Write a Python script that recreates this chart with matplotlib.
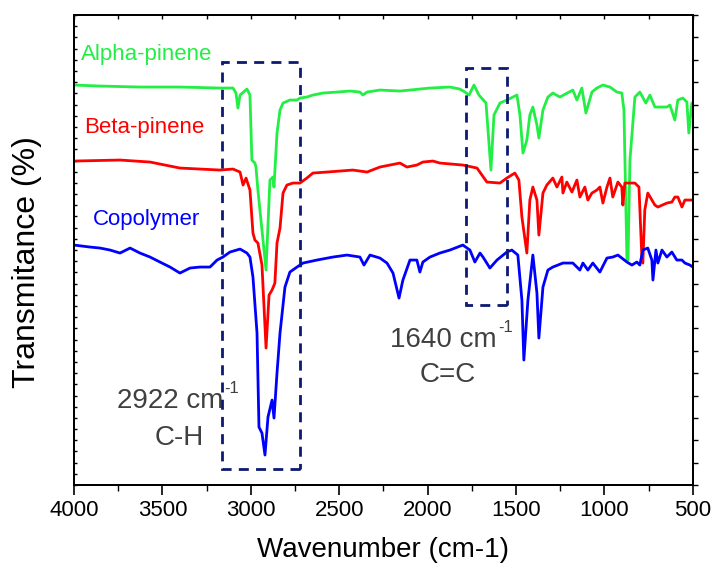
import matplotlib
matplotlib.use('Agg')
import matplotlib.pyplot as plt
from matplotlib.patches import Rectangle
from matplotlib.ticker import MultipleLocator
import numpy as np

plt.rcParams['font.family'] = ['Liberation Sans', 'DejaVu Sans']

# ====== spectra (wavenumber cm-1, transmittance in arbitrary offset units) ======
alpha_wn = [4000, 3853, 3627, 3401, 3175, 3101, 3084, 3073, 3061, 3022, 3005, 2994, 2977,
            2971, 2960, 2914, 2892, 2875, 2869, 2852, 2835, 2818, 2779, 2739, 2722, 2683,
            2649, 2592, 2513, 2439, 2383, 2366, 2343, 2270, 2157, 2044, 1987, 1874, 1818,
            1789, 1766, 1738, 1710, 1670, 1642, 1625, 1591, 1552, 1518, 1495, 1478, 1461,
            1439, 1422, 1405, 1382, 1371, 1348, 1320, 1292, 1252, 1179, 1156, 1128, 1105,
            1071, 1043, 1009, 969, 930, 902, 890, 873, 867, 856, 828, 800, 766, 743, 715,
            647, 630, 602, 585, 557, 534, 523, 506, 500]
alpha_t = [400, 399, 398, 398, 397, 397, 392, 377, 390, 396, 390, 325, 322,
           318, 295, 215, 305, 308, 298, 352, 375, 382, 385, 385, 387, 388,
           390, 392, 393, 394, 393, 390, 393, 395, 394, 396, 397, 398, 396,
           393, 390, 400, 390, 382, 315, 370, 382, 385, 388, 390, 370, 332,
           345, 370, 378, 360, 347, 375, 388, 392, 388, 395, 385, 397, 372,
           393, 397, 400, 398, 393, 392, 375, 225, 225, 325, 388, 393, 382, 390, 378,
           378, 380, 365, 385, 387, 383, 352, 382, 382]

beta_wn = [4000, 3740, 3570, 3401, 3175, 3101, 3061, 3044, 3027, 3005, 2988, 2977, 2960,
           2937, 2914, 2897, 2880, 2864, 2852, 2835, 2818, 2796, 2762, 2722, 2683, 2649,
           2570, 2423, 2343, 2270, 2157, 2117, 2061, 2027, 1970, 1931, 1801, 1721, 1665,
           1591, 1552, 1507, 1484, 1467, 1439, 1422, 1405, 1382, 1371, 1348, 1326, 1292,
           1269, 1241, 1235, 1213, 1184, 1156, 1139, 1111, 1094, 1071, 1043, 1026, 1009,
           986, 969, 953, 924, 902, 896, 885, 856, 828, 805, 788, 783, 772, 755, 715,
           698, 647, 619, 602, 585, 562, 545, 500]
beta_t = [324, 325, 323, 317, 315, 316, 313, 300, 307, 295, 252, 245, 242,
          220, 137, 190, 195, 202, 242, 257, 292, 300, 302, 302, 307, 312,
          313, 315, 313, 318, 322, 318, 320, 323, 324, 322, 320, 317, 303,
          302, 307, 312, 305, 268, 232, 285, 298, 285, 250, 292, 300, 307,
          298, 308, 292, 303, 293, 305, 288, 298, 285, 292, 295, 298, 282,
          298, 307, 288, 303, 298, 280, 302, 302, 302, 298, 225, 222, 275, 292, 280,
          278, 282, 283, 288, 288, 278, 285, 285]

copo_wn = [4000, 3910, 3853, 3796, 3740, 3683, 3627, 3570, 3514, 3457, 3401, 3344, 3288,
           3231, 3191, 3158, 3118, 3061, 3022, 3005, 2988, 2965, 2954, 2937, 2920, 2903,
           2880, 2869, 2852, 2835, 2807, 2779, 2739, 2705, 2626, 2536, 2456, 2383, 2360,
           2326, 2270, 2230, 2196, 2162, 2140, 2100, 2061, 2044, 2027, 1987, 1931, 1874,
           1801, 1761, 1733, 1704, 1687, 1648, 1608, 1552, 1524, 1490, 1467, 1456, 1433,
           1405, 1382, 1371, 1348, 1320, 1292, 1235, 1179, 1139, 1122, 1094, 1066, 1026,
           986, 953, 924, 902, 873, 845, 817, 800, 783, 755, 732, 726, 709, 698, 675,
           647, 619, 591, 562, 545, 517, 500]
copo_t = [240, 238, 237, 235, 232, 237, 232, 228, 223, 218, 212, 217, 218,
          218, 225, 228, 233, 236, 232, 228, 208, 152, 58, 52, 30, 68,
          85, 67, 112, 152, 198, 213, 218, 222, 225, 228, 230, 228, 220,
          230, 227, 222, 212, 187, 205, 225, 225, 213, 223, 228, 232, 235,
          240, 235, 223, 232, 228, 217, 225, 233, 235, 230, 185, 125, 185,
          230, 192, 147, 198, 215, 218, 222, 222, 215, 222, 215, 222, 213,
          227, 228, 230, 227, 223, 220, 223, 220, 235, 237, 225, 205, 235, 222, 235,
          228, 233, 225, 225, 222, 220, 218]

series_names = ['Alpha-pinene', 'Beta-pinene', 'Copolymer']
series_colors = ['#22ee44', '#ff0000', '#0000ff']

# 注目バンドの枠 (wavenumber min, max, t min, t max)
ch_box = (2722, 3163, 16, 423)
cc_box = (1552, 1784, 180, 417)
box_color = '#0c1a70'
note_color = '#404040'

fig = plt.figure(figsize=(7.13, 5.72), dpi=100)
ax = fig.add_axes([0.1038, 0.152, 0.868, 0.8217])

for wn, t, c in zip([alpha_wn, beta_wn, copo_wn], [alpha_t, beta_t, copo_t], series_colors):
    ax.plot(wn, t, color=c, lw=2.0, solid_joinstyle='round', zorder=3)

for (x0, x1, y0, y1) in [ch_box, cc_box]:
    ax.add_patch(Rectangle((x0, y0), x1 - x0, y1 - y0, fill=False, edgecolor=box_color,
                           lw=2.0, linestyle=(0, (3.6, 2.6)), zorder=4))

# 系列名
ax.text(3960, 431, series_names[0], color=series_colors[0], fontsize=16, va='center')
ax.text(3943, 358, series_names[1], color=series_colors[1], fontsize=16, va='center')
ax.text(3893, 266, series_names[2], color=series_colors[2], fontsize=16, va='center')

# バンド注記
ax.text(3158, 77, '2922 cm', color=note_color, fontsize=20, ha='right', va='baseline')
ax.text(3152, 92, '-1', color=note_color, fontsize=12, ha='left', va='baseline')
ax.text(3403, 40, 'C-H', color=note_color, fontsize=20, ha='center', va='baseline')
ax.text(1608, 138, '1640 cm', color=note_color, fontsize=20, ha='right', va='baseline')
ax.text(1602, 153, '-1', color=note_color, fontsize=12, ha='left', va='baseline')
ax.text(1887, 103, 'C=C', color=note_color, fontsize=20, ha='center', va='baseline')

ax.set_xlim(4000, 500)
ax.set_ylim(0, 470)
ax.xaxis.set_major_locator(MultipleLocator(500))
ax.xaxis.set_minor_locator(MultipleLocator(250))
ax.set_yticks(np.linspace(0, 470, 22))
ax.yaxis.set_minor_locator(MultipleLocator(470 / 42))
ax.tick_params(axis='x', which='major', direction='out', length=7, width=1.2, labelsize=16)
ax.tick_params(axis='x', which='minor', direction='out', length=4, width=1.0)
ax.tick_params(axis='y', which='both', direction='in', length=2.5, width=1.0,
               left=True, right=False, labelleft=False)

# 上側の目盛り (内向き)
tax = ax.twiny()
tax.set_xlim(4000, 500)
tax.xaxis.set_major_locator(MultipleLocator(250))
tax.tick_params(axis='x', direction='in', length=3, width=1.0, labeltop=False)

# 右側の目盛り
rax = ax.twinx()
rax.set_ylim(0, 470)
rax.set_yticks(np.linspace(0, 470, 22))
rax.tick_params(axis='y', direction='out', length=3.5, width=1.0, labelright=False)

for a in [ax, tax, rax]:
    for sp in a.spines.values():
        sp.set_linewidth(1.4)

ax.set_xlabel('Wavenumber (cm-1)', fontsize=20, labelpad=12)
ax.set_ylabel('Transmitance (%)', fontsize=23)
ax.yaxis.set_label_coords(-0.052, 0.474)

fig.savefig('out.png', dpi=100)
